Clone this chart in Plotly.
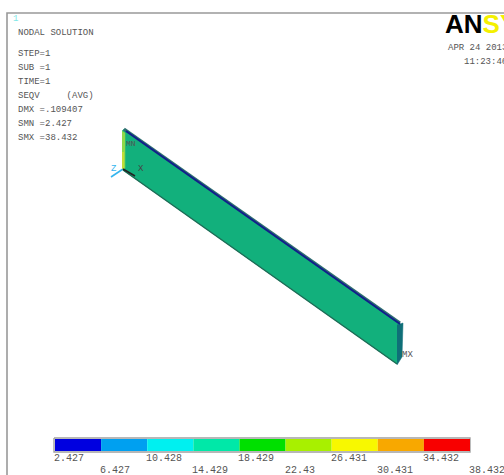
import plotly.graph_objects as go

# Contour legend
levels = [2.427, 6.427, 10.428, 14.429, 18.429, 22.43, 26.431, 30.431, 34.432, 38.432]
level_labels = ["2.427", "6.427", "10.428", "14.429", "18.429", "22.43", "26.431", "30.431", "34.432", "38.432"]
band_colors = ["#0000e0", "#00a0f0", "#00f0f0", "#00e8a8", "#00e000", "#a8f000", "#f8f800", "#f8a800", "#f80000"]

# Summary text
info_lines = [("NODAL SOLUTION", 33), ("STEP=1", 54), ("SUB =1", 68), ("TIME=1", 82),
              ("SEQV     (AVG)", 96), ("DMX =.109407", 110), ("SMN =2.427", 124), ("SMX =38.432", 138)]

# Beam outline in the picture's own coordinates
face_x = [122, 124, 400, 397, 123]
face_y = [131, 129, 324, 364, 170]
end_x = [397, 403, 402, 397]
end_y = [325, 323, 357, 365]
top_x = [124, 400]
top_y = [129, 323]
navy_x = [126, 400]
navy_y = [131, 324]
root_x = [122, 125, 125, 122]
root_y = [131, 133, 168, 170]
bottom_x = [123, 397]
bottom_y = [170, 364]
axis_z_x = [123, 111]
axis_z_y = [169, 177]
axis_y_x = [123, 123]
axis_y_y = [169, 152]
axis_x_x = [123, 135]
axis_x_y = [169, 176]
legend_frame_x = [54, 470, 470, 54, 54]
legend_frame_y = [438, 438, 452, 452, 438]

fig = go.Figure()

def poly(x, y, fill, name):
    fig.add_trace(go.Scatter(x=x, y=y, fill="toself", fillcolor=fill, mode="lines",
                             line=dict(color=fill, width=0.5), name=name, hoverinfo="skip"))

def line(x, y, color, width, name):
    fig.add_trace(go.Scatter(x=x, y=y, mode="lines", line=dict(color=color, width=width),
                             name=name, hoverinfo="skip"))

# Frame
line([7, 7, 504], [475, 13, 13], "#999999", 1.6, "frame")

# Beam
poly(face_x, face_y, "#12b07c", "face")
poly(end_x, end_y, "#0f6f78", "end")
line(top_x, top_y, "#2f6f70", 3, "top edge")
line(navy_x, navy_y, "#10208c", 2, "top")
poly(root_x, root_y, "#8fd84a", "root")
line(bottom_x, bottom_y, "#1d6b55", 1.4, "lower edge")
line(axis_z_x, axis_z_y, "#35b5ee", 1.6, "z")
line(axis_y_x, axis_y_y, "#d8e030", 1.4, "y")
line(axis_x_x, axis_x_y, "#222222", 1.6, "x")
line(legend_frame_x, legend_frame_y, "#a0a0a0", 1.4, "legend frame")

# Colour bands on the value axis
fig.add_trace(go.Bar(
    x=[b - a for a, b in zip(levels[:-1], levels[1:])],
    base=levels[:-1], y=[0.5] * len(band_colors), orientation="h", width=1,
    marker=dict(color=band_colors, line=dict(width=0)),
    xaxis="x2", yaxis="y2", name="SEQV", hoverinfo="skip"))

mono = "Liberation Mono"
ann = []
for text, y in info_lines:
    ann.append(dict(x=16, y=y, text=text.replace(" ", "&nbsp;"), xref="x", yref="y", showarrow=False,
                    xanchor="left", font=dict(family=mono, size=9, color="#555555")))
for i, (v, t) in enumerate(zip(levels, level_labels)):
    ann.append(dict(x=v, y=458 if i % 2 == 0 else 470, text=t, xref="x2", yref="y", showarrow=False,
                    xanchor="left", xshift=-3, font=dict(family=mono, size=10, color="#555555")))
for text, x, y, size, col in [("1", 11, 19, 9, "#7fe8e8"), ("APR 24 2013", 446, 48, 9, "#555555"),
                              ("11:23:46", 462, 62, 9, "#555555"), ("MX", 400, 355, 9, "#555555"),
                              ("MN", 124, 143, 8, "#555555"), ("X", 136, 169, 9, "#444444"),
                              ("Z", 109, 169, 9, "#35b5ee")]:
    ann.append(dict(x=x, y=y, text=text.replace(" ", "&nbsp;"), xref="x", yref="y", showarrow=False,
                    xanchor="left", font=dict(family=mono, size=size, color=col)))
ann.append(dict(x=443, y=24, text="<b>AN<span style='color:#f4f000'>SYS</span></b>", xref="x", yref="y",
                showarrow=False, xanchor="left",
                font=dict(family="Liberation Sans", size=26, color="#000000")))

fig.update_layout(
    width=504, height=475, margin=dict(l=0, r=0, t=0, b=0),
    paper_bgcolor="white", plot_bgcolor="rgba(0,0,0,0)", showlegend=False, annotations=ann,
    xaxis=dict(range=[0, 504], domain=[0, 1], visible=False, fixedrange=True),
    yaxis=dict(range=[475, 0], domain=[0, 1], visible=False, fixedrange=True),
    xaxis2=dict(range=[levels[0], levels[-1]], domain=[55 / 504, 470 / 504], anchor="y2", visible=False),
    yaxis2=dict(range=[0, 1], domain=[(475 - 451) / 475, (475 - 439) / 475], anchor="x2", visible=False),
)
fig.write_html("out.html", config=dict(displayModeBar=False),
               post_script="document.body.style.margin='0';document.body.style.overflow='hidden';")
